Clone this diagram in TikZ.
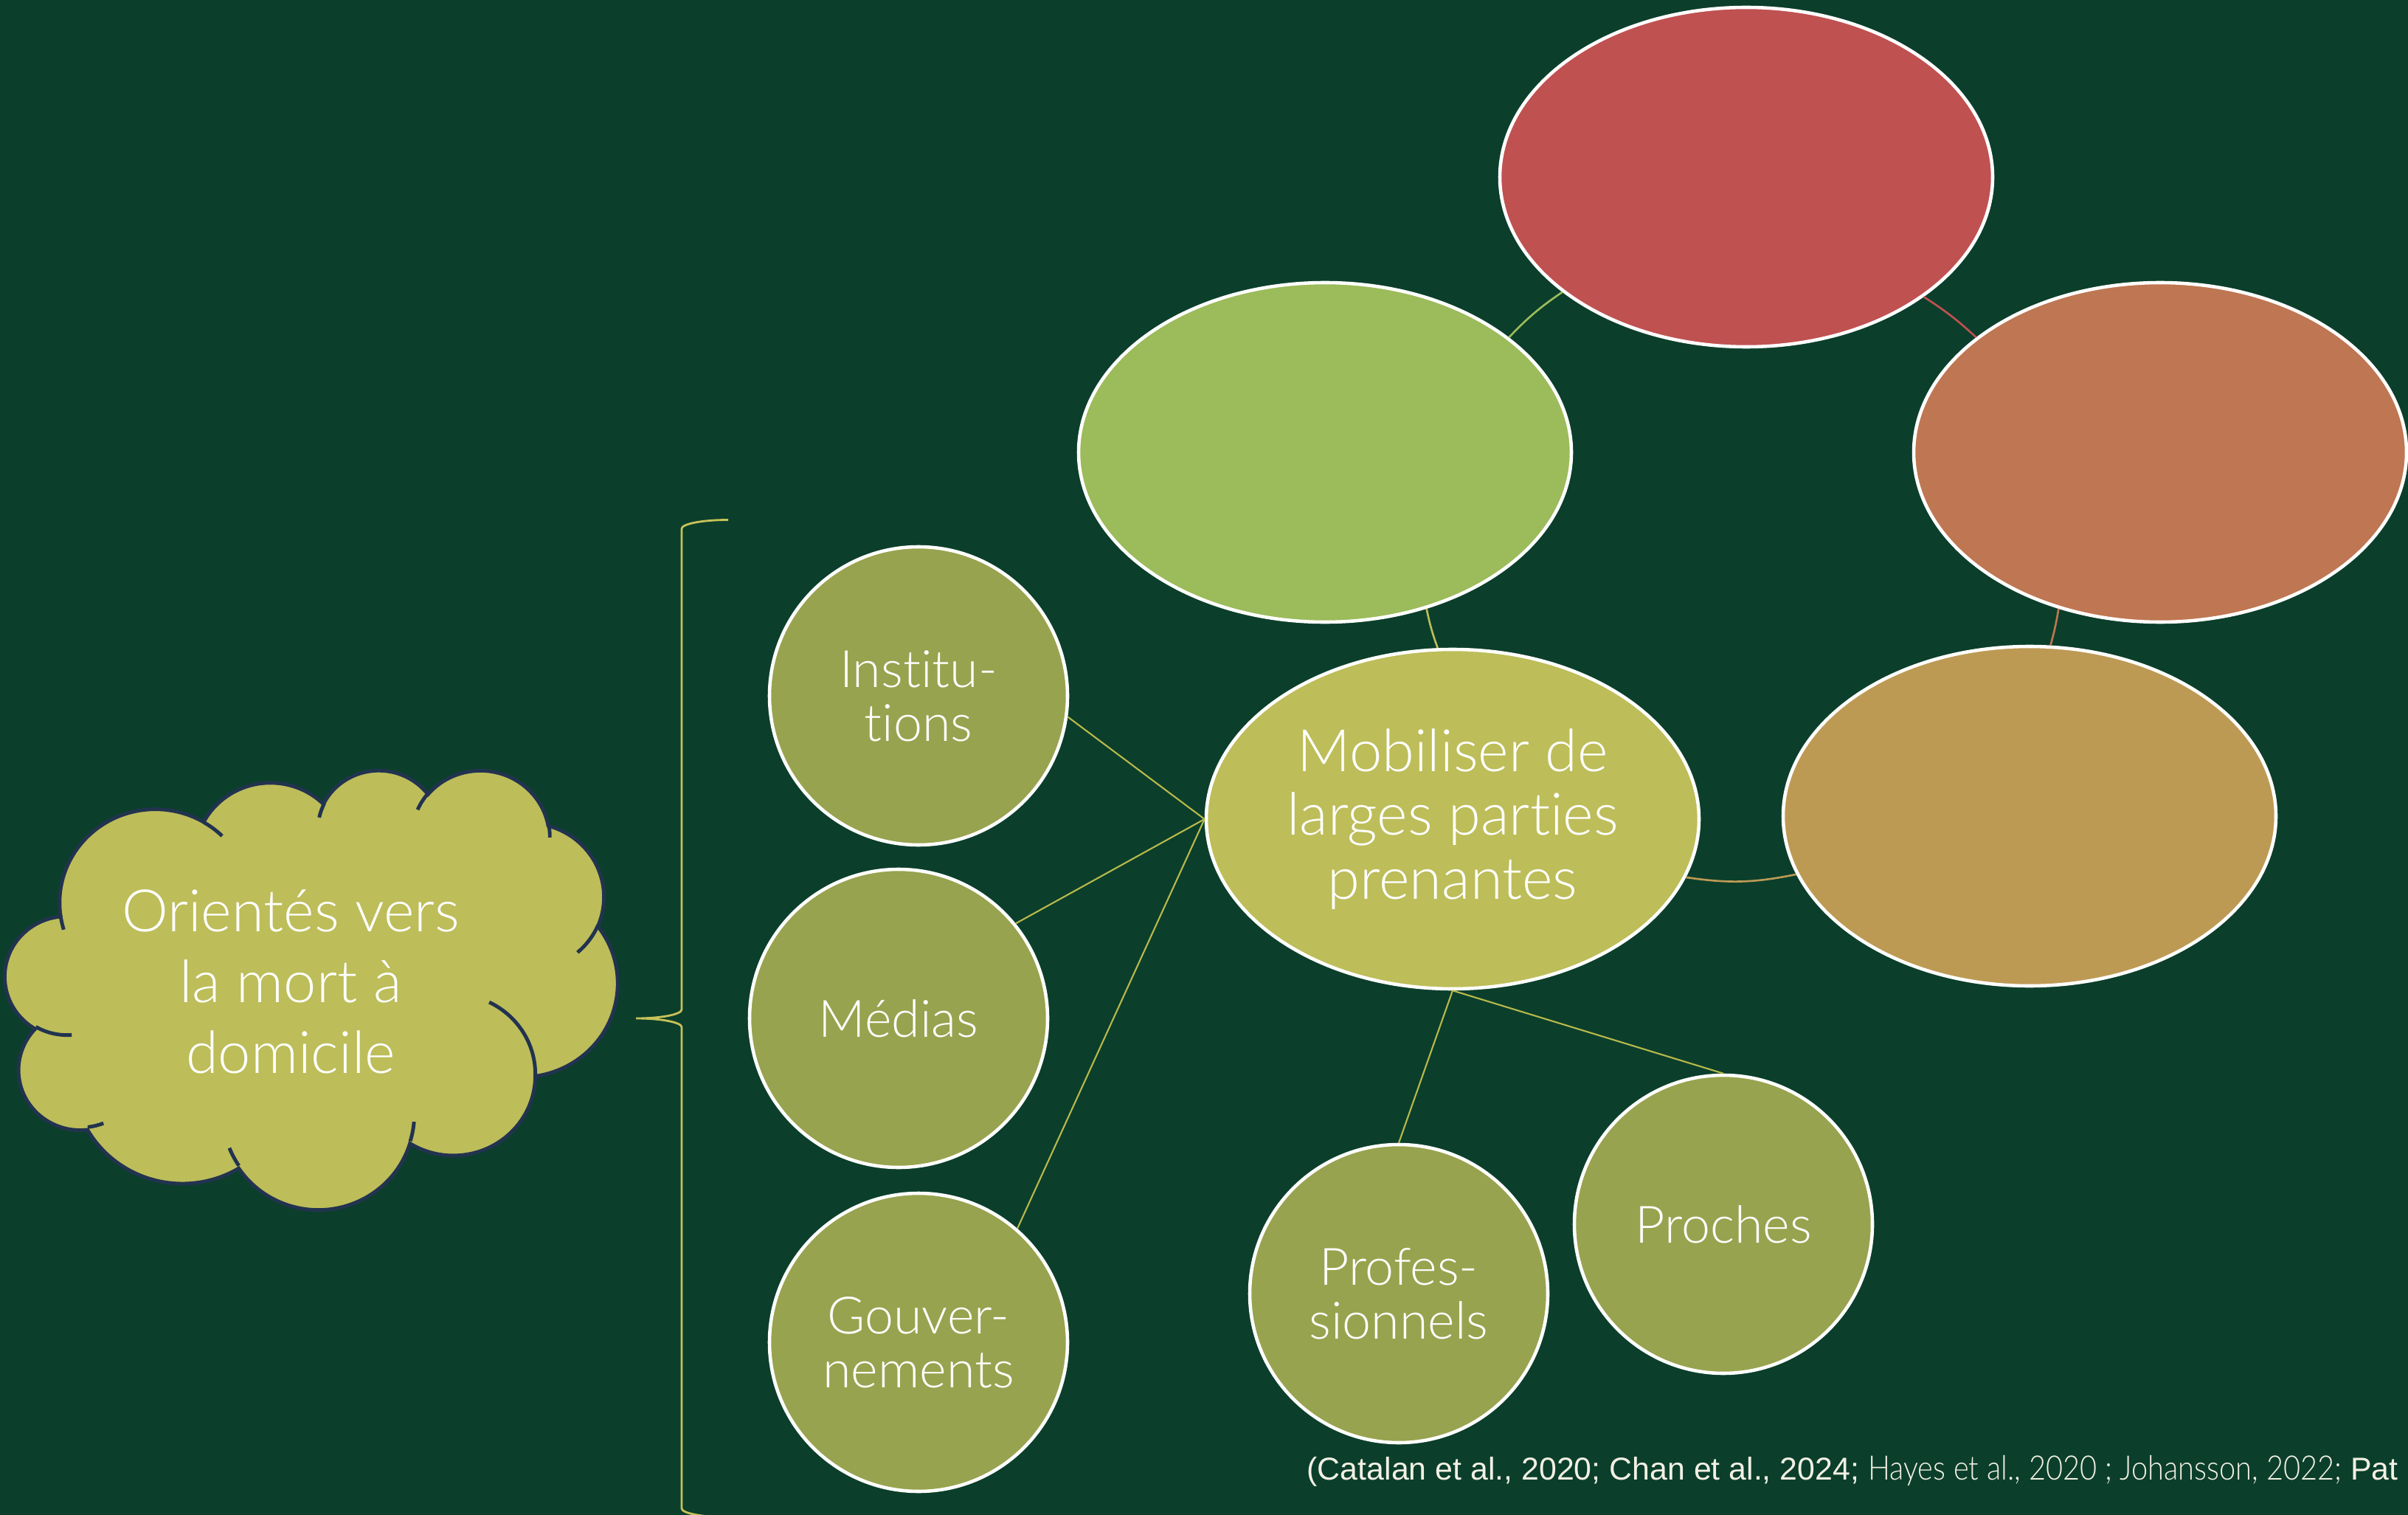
\documentclass[tikz,border=0pt]{standalone}
\usepackage{fontspec}
\usepackage{graphicx}
\setmainfont{Lato}[UprightFont={* Light}, Ligatures={NoCommon}]
\newfontfamily\citefont{Liberation Sans}
\usetikzlibrary{shapes.geometric}
\definecolor{bgcol}{HTML}{0B3F2B}
\definecolor{redfill}{HTML}{C05151}
\definecolor{greenfill}{HTML}{9CBB5B}
\definecolor{orangefill}{HTML}{BE7752}
\definecolor{tanfill}{HTML}{BD9A54}
\definecolor{centralfill}{HTML}{BDBD5A}
\definecolor{circfill}{HTML}{98A34F}
\definecolor{cloudline}{HTML}{22334F}
\definecolor{spokecol}{HTML}{B9B94C}
\definecolor{bracecol}{HTML}{C8C25A}
\definecolor{citecol}{HTML}{F2F0E4}
\newcommand\carc[4]{arc[start angle={-pa(#3,#1,#2)}, end angle={-pa(#3+#4,#1,#2)}, x radius={#1*0.019213mm}, y radius={#2*0.013773mm}]}
\begin{document}
\begin{tikzpicture}[
  declare function={pf(\angv,\radx,\rady)=atan2(\radx*sin(\angv),\rady*cos(\angv));
                    pa(\angv,\radx,\rady)=pf(\angv,\radx,\rady)+360*round((\angv-pf(\angv,\radx,\rady))/360);},
  bigell/.style={ellipse, draw=white, line width=1.3pt, minimum width=6.68cm, minimum height=4.6cm, inner sep=0pt},
  circ/.style={circle, draw=white, line width=1.3pt, fill=circfill, minimum size=4.04cm, inner sep=0pt, text=white, align=center, font=\fontsize{19.9}{20.8}\selectfont},
  spoke/.style={draw=spokecol, line width=0.6pt},
  ringarc/.style={line width=0.75pt},
  brace/.style={draw=bracecol, line width=0.8pt},
  cloudshape/.style={fill=centralfill, draw=cloudline, line width=1.4pt},
  cloudinner/.style={draw=cloudline, line width=1.4pt},
]
\useasboundingbox (0,0) rectangle (32.64,-20.53);
\clip (0,0) rectangle (32.64,-20.53);
\fill[bgcol] (0,0) rectangle (32.64,-20.53);

% cloud
\begin{scope}[shift={(0.07,-10.43)}, x=0.0019213cm, y=-0.0013773cm]
\path[cloudshape] (390,1437)
  \carc{675.3}{919.0}{-190.49}{123.78}
  \carc{533.3}{726.7}{-144.10}{89.945}
  \carc{436.5}{594.5}{-145.81}{99.72}
  \carc{485.7}{659.5}{-130.99}{117.24}
  \carc{533.3}{727.3}{-78.71}{109.03}
  \carc{677.5}{922.0}{-46.27}{130.27}
  \carc{578.5}{786.7}{0.625}{114.03}
  \carc{675.2}{921.5}{22.45}{115.17}
  \carc{772.0}{1054.3}{66.24}{75.71}
  \carc{436.0}{591.8}{-274.94}{146.74}
  \carc{434.5}{594.5}{-246.83}{152.52}
  -- cycle;
\draw[cloudinner] (469.3,2617.7) \carc{434.5}{594.5}{86.74}{26.43};
\draw[cloudinner] (692.8,3489.9) \carc{436.0}{591.8}{73.61}{11.45};
\draw[cloudinner] (1647.8,3909.0) \carc{675.2}{921.5}{137.62}{14.08};
\draw[cloudinner] (2882.7,3475.1) \carc{675.2}{921.5}{6.45}{16.0};
\draw[cloudinner] (3412.9,2295.4) \carc{578.5}{786.7}{-70.29}{70.92};
\draw[cloudinner] (4179.8,1535.4) \carc{533.3}{727.3}{30.32}{27.75};
\draw[cloudinner] (3832.4,542.6) \carc{485.7}{659.5}{-13.74}{14.86};
\draw[cloudinner] (2907.8,395.2) \carc{485.7}{659.5}{-149.18}{18.2};
\draw[cloudinner] (2214.1,472.0) \carc{436.5}{594.5}{-163.49}{17.69};
\draw[cloudinner] (1400.0,519.2) \carc{675.3}{919.0}{-66.71}{12.32};
\draw[cloudinner] (412.7,1578.9) \carc{675.3}{919.0}{157.65}{11.86};
\end{scope}
\node[font=\fontsize{22.6}{27.3}\selectfont, text=white, align=center, inner sep=0pt] (cloudtxt) at (3.94,-13.30) {Orientés vers\\la mort à\\domicile};

% brace
\draw[brace] (9.87,-7.045) arc[start angle=90,end angle=180,x radius=0.63cm,y radius=0.12cm]
  -- (9.24,-13.68) arc[start angle=0,end angle=-90,x radius=0.62cm,y radius=0.12cm]
  arc[start angle=90,end angle=0,x radius=0.62cm,y radius=0.12cm]
  -- (9.24,-20.44) arc[start angle=180,end angle=270,x radius=0.63cm,y radius=0.12cm];

% ring of ellipses
\node[bigell, fill=redfill] (red) at (23.67,-2.40) {};
\node[bigell, fill=greenfill] (green) at (17.96,-6.13) {};
\node[bigell, fill=orangefill] (orange) at (29.28,-6.13) {};
\node[bigell, fill=tanfill] (tan) at (27.51,-11.06) {};
\node[bigell, fill=centralfill, text=white, align=center, font=\fontsize{22.6}{24.7}\selectfont] (central) at (19.69,-11.10) {Mobiliser de\\larges parties\\prenantes};

\draw[ringarc, draw=greenfill] (green.32) to[bend left=6] (red.212);
\draw[ringarc, draw=redfill] (red.326) to[bend left=5] (orange.148);
\draw[ringarc, draw=orangefill] (orange.237) to[bend left=3] (tan.83);
\draw[ringarc, draw=tanfill] (tan.194) to[bend left=10] (central.346);
\draw[ringarc, draw=centralfill] (central.95) to[bend left=4] (green.303);

% stakeholder circles
\node[circ] (inst) at (12.45,-9.43) {Institu-\\tions};
\node[circ] (medias) at (12.18,-13.80) {Médias};
\node[circ] (gouv) at (12.45,-18.19) {Gouver-\\nements};
\node[circ] (prof) at (18.96,-17.53) {Profes-\\sionnels};
\node[circ] (proches) at (23.36,-16.59) {Proches};

\draw[spoke] (central.west) -- (inst.-8);
\draw[spoke] (central.west) -- (medias.39);
\draw[spoke] (central.west) -- (gouv.49);
\draw[spoke] (central.south) -- (prof.north);
\draw[spoke] (central.south) -- (proches.north);

% citation
\node[anchor=base west, inner sep=0pt, text=citecol, font=\citefont\fontsize{12.2}{14}\selectfont] (cite) at (17.71,-20.05) {(Catalan et al., 2020; Chan et al., 2024; \scalebox{0.87}[1]{\rmfamily\fontsize{13}{15}\selectfont Hayes et al., 2020 ; Johansson, 2022;} Pat};
\end{tikzpicture}
\end{document}
